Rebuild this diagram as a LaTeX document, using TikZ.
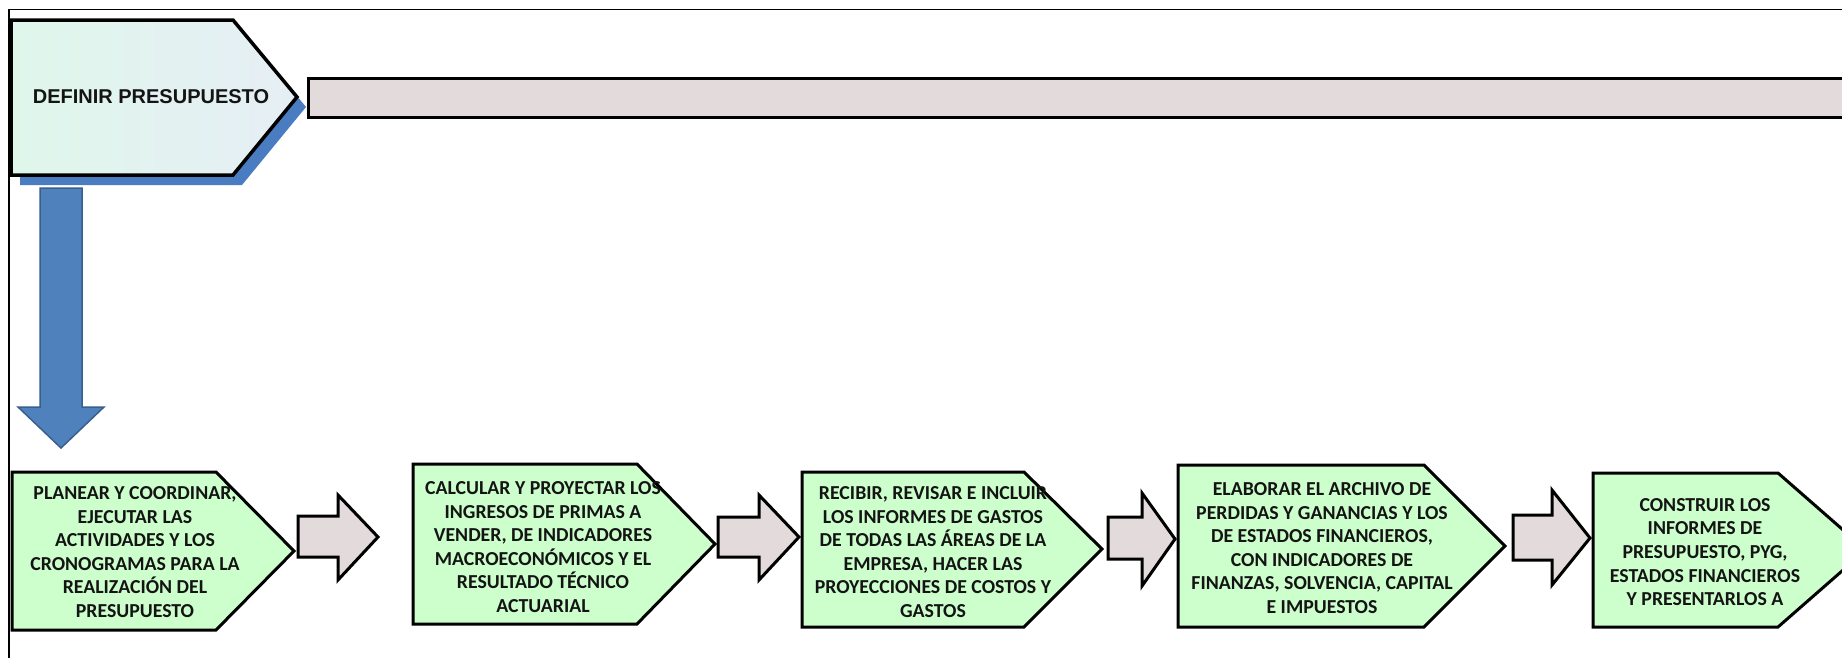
\documentclass[tikz,border=0pt]{standalone}
\usepackage{fontspec}
\setmainfont{Carlito}
\newfontfamily\arialfont{Liberation Sans}
\definecolor{boxgreen}{HTML}{CCFFCC}
\definecolor{bargray}{HTML}{E3DBDB}
\definecolor{shadowblue}{HTML}{4A7CC2}
\definecolor{arrowblue}{HTML}{4F81BD}
\definecolor{arrowedge}{HTML}{3A5F8C}
\definecolor{mintA}{HTML}{DFF7EB}
\definecolor{mintB}{HTML}{E6EEF5}
\definecolor{txt}{HTML}{141414}
\tikzset{
  stepbox/.style={draw=black, fill=boxgreen, line width=3pt, line join=miter},
  steptext/.style={align=center, text=txt, font=\fontsize{19.8}{23.6}\selectfont\bfseries, inner sep=0pt},
  grayarrow/.style={draw=black, fill=bargray, line width=3pt, line join=miter},
}
\begin{document}
\begin{tikzpicture}[x=1pt,y=-1pt]
\path[use as bounding box, clip] (0,0) rectangle (1842,657);
\fill[white] (0,0) rectangle (1842,657);
% frame lines
\draw[line width=1.5pt] (9,660) -- (9,9.5) -- (1850,9.5);
% top bar
\draw[draw=black, fill=bargray, line width=3pt] (308,78) rectangle (1850,117);
% DEFINIR shadow + shape
\fill[shadowblue] (20,30) -- (242,30) -- (306,107) -- (242,185) -- (20,185) -- cycle;
\shade[left color=mintA, right color=mintB] (11,20) -- (233,20) -- (297,97) -- (233,175) -- (11,175) -- cycle;
\draw[line width=3.5pt, line join=miter] (11,20) -- (233,20) -- (297,97) -- (233,175) -- (11,175) -- cycle;
\node[font=\arialfont\fontsize{20}{22}\selectfont\bfseries, text=txt, inner sep=0pt] (def) at (151,97) {DEFINIR PRESUPUESTO};
% blue down arrow
\draw[fill=arrowblue, draw=arrowedge, line width=1.5pt, line join=miter]
  (40,188) -- (82,188) -- (82,407) -- (104,407) -- (61,448) -- (18,407) -- (40,407) -- cycle;
% step boxes
\draw[stepbox] (12,472) -- (216,472) -- (294,551) -- (216,630) -- (12,630) -- cycle;
\node[steptext] (s1) at (135,552) {PLANEAR Y COORDINAR,\\EJECUTAR LAS\\ACTIVIDADES Y LOS\\CRONOGRAMAS PARA LA\\REALIZACIÓN DEL\\PRESUPUESTO};
\draw[stepbox] (413,464) -- (637,464) -- (715,544) -- (637,624) -- (413,624) -- cycle;
\node[steptext] (s2) at (543,547) {CALCULAR Y PROYECTAR LOS\\INGRESOS DE PRIMAS A\\VENDER, DE INDICADORES\\MACROECONÓMICOS Y EL\\RESULTADO TÉCNICO\\ACTUARIAL};
\draw[stepbox] (802,472) -- (1024,472) -- (1102,549) -- (1024,627) -- (802,627) -- cycle;
\node[steptext] (s3) at (933,552) {RECIBIR, REVISAR E INCLUIR\\LOS INFORMES DE GASTOS\\DE TODAS LAS ÁREAS DE LA\\EMPRESA, HACER LAS\\PROYECCIONES DE COSTOS Y\\GASTOS};
\draw[stepbox] (1178,465) -- (1424,465) -- (1505,546) -- (1424,627) -- (1178,627) -- cycle;
\node[steptext] (s4) at (1322,548) {ELABORAR EL ARCHIVO DE\\PERDIDAS Y GANANCIAS Y LOS\\DE ESTADOS FINANCIEROS,\\CON INDICADORES DE\\FINANZAS, SOLVENCIA, CAPITAL\\E IMPUESTOS};
\draw[stepbox] (1593,473) -- (1778,473) -- (1866,550) -- (1778,627) -- (1593,627) -- cycle;
\node[steptext] (s5) at (1705,552) {CONSTRUIR LOS\\INFORMES DE\\PRESUPUESTO, PYG,\\ESTADOS FINANCIEROS\\Y PRESENTARLOS A};
% gray block arrows
\draw[grayarrow] (298,516) -- (338,516) -- (338,495) -- (378,537) -- (338,580) -- (338,557) -- (298,557) -- cycle;
\draw[grayarrow] (718,517) -- (759,517) -- (759,495) -- (799,537) -- (759,580) -- (759,557) -- (718,557) -- cycle;
\draw[grayarrow] (1108,517) -- (1142,517) -- (1142,493) -- (1175,539) -- (1142,586) -- (1142,559) -- (1108,559) -- cycle;
\draw[grayarrow] (1513,515) -- (1552,515) -- (1552,490) -- (1590,538) -- (1552,585) -- (1552,560) -- (1513,560) -- cycle;
\end{tikzpicture}
\end{document}
